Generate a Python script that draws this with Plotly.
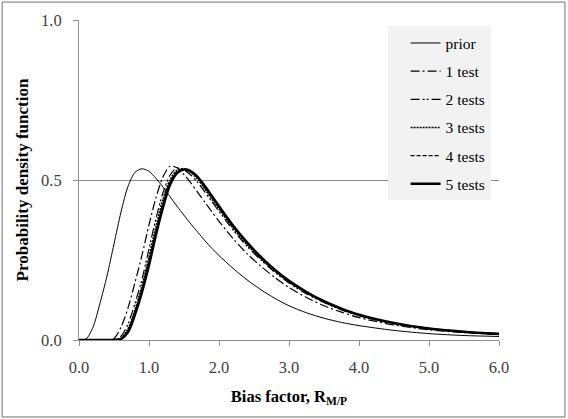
import plotly.graph_objects as go

x_vals = [0.0, 0.1, 0.2, 0.3, 0.4, 0.5, 0.6, 0.7, 0.8, 0.9, 1.0, 1.1, 1.2, 1.3, 1.4, 1.5, 1.6, 1.7, 1.8, 1.9, 2.0,
          2.2, 2.4, 2.6, 2.8, 3.0, 3.25, 3.5, 3.75, 4.0, 4.5, 5.0, 5.5, 6.0]

prior = [0.0, 0.003, 0.04, 0.115, 0.2, 0.3, 0.4, 0.48, 0.524, 0.535, 0.527, 0.505, 0.478, 0.448, 0.418, 0.39,
         0.362, 0.336, 0.31, 0.286, 0.264, 0.224, 0.188, 0.157, 0.13, 0.107, 0.085, 0.068, 0.055, 0.045, 0.03, 0.02, 0.014, 0.011]
test1 = [0.0, 0.0, 0.0, 0.0, 0.0, 0.005, 0.04, 0.1, 0.18, 0.265, 0.36, 0.445, 0.51, 0.543, 0.538, 0.517,
         0.49, 0.46, 0.43, 0.40, 0.371, 0.317, 0.27, 0.23, 0.195, 0.164, 0.133, 0.107, 0.087, 0.07, 0.047, 0.032, 0.023, 0.017]
test2 = [0.0, 0.0, 0.0, 0.0, 0.0, 0.0, 0.012, 0.05, 0.115, 0.19, 0.285, 0.38, 0.46, 0.515, 0.538, 0.532,
         0.515, 0.491, 0.462, 0.432, 0.402, 0.344, 0.293, 0.25, 0.211, 0.178, 0.144, 0.117, 0.094, 0.076, 0.051, 0.035, 0.025, 0.018]
test3 = [0.0, 0.0, 0.0, 0.0, 0.0, 0.0, 0.006, 0.035, 0.095, 0.17, 0.26, 0.355, 0.44, 0.5, 0.53, 0.535,
         0.523, 0.501, 0.471, 0.44, 0.409, 0.35, 0.298, 0.254, 0.215, 0.181, 0.147, 0.119, 0.096, 0.077, 0.052, 0.036, 0.025, 0.018]
test4 = [0.0, 0.0, 0.0, 0.0, 0.0, 0.0, 0.004, 0.03, 0.088, 0.16, 0.248, 0.342, 0.428, 0.493, 0.527, 0.534,
         0.525, 0.505, 0.476, 0.445, 0.414, 0.354, 0.302, 0.257, 0.217, 0.183, 0.148, 0.12, 0.097, 0.078, 0.052, 0.036, 0.026, 0.019]
test5 = [0.0, 0.0, 0.0, 0.0, 0.0, 0.0, 0.003, 0.025, 0.08, 0.15, 0.235, 0.33, 0.415, 0.485, 0.522, 0.533,
         0.527, 0.508, 0.48, 0.449, 0.418, 0.358, 0.305, 0.259, 0.219, 0.185, 0.15, 0.121, 0.098, 0.079, 0.053, 0.036, 0.026, 0.019]

names = ["prior", "1 test", "2 tests", "3 tests", "4 tests", "5 tests"]
series = [prior, test1, test2, test3, test4, test5]
styles = [
    dict(width=1.0, dash="solid"),
    dict(width=1.2, dash="9px,3px,2px,3px"),
    dict(width=1.2, dash="9px,3px,2px,2px,2px,3px"),
    dict(width=1.6, dash="2px,1px"),
    dict(width=1.2, dash="4px,2px"),
    dict(width=2.6, dash="solid"),
]

serif = "Liberation Serif, Times New Roman, serif"
fig = go.Figure()
for i, (nm, ys, st) in enumerate(zip(names, series, styles)):
    fig.add_trace(go.Scatter(x=x_vals, y=ys, mode="lines", name=nm, legendgroup=f"g{i}",
                             line=dict(color="black", shape="spline", smoothing=0.8, **st)))

fig.update_layout(
    width=568, height=419,
    margin=dict(l=79, r=69, t=20, b=79),
    paper_bgcolor="white", plot_bgcolor="white",
    font=dict(family=serif, size=16.5, color="#333333"),
    showlegend=True,
    legend=dict(x=0.98, y=0.98, xanchor="right", yanchor="top", bgcolor="#f2f2f2",
                font=dict(family=serif, size=15.5, color="black"), traceorder="grouped",
                tracegroupgap=5, itemwidth=30, indentation=18),
    xaxis=dict(range=[0, 6], dtick=1, tickformat=".1f", showgrid=False, showline=True,
               linecolor="#8c8c8c", linewidth=1, ticks="outside", ticklen=5, tickcolor="#8c8c8c",
               zeroline=False, tickfont=dict(size=16.5, color="#404040"), ticklabelstandoff=7,
               title=dict(text="<b>Bias factor, R<sub>M/P</sub></b>", font=dict(size=16.5, color="black"), standoff=14)),
    yaxis=dict(range=[0, 1], dtick=0.5, tickformat=".1f", showgrid=True, gridcolor="#8c8c8c", gridwidth=1,
               showline=True, linecolor="#8c8c8c", linewidth=1, ticks="outside", ticklen=5, tickcolor="#8c8c8c",
               zeroline=False, tickfont=dict(size=16.5, color="#404040"), ticklabelstandoff=8,
               title=dict(text="<b>Probability density function</b>", font=dict(size=17, color="black"), standoff=8)),
)

fig.add_shape(type="rect", xref="paper", yref="paper", x0=-0.183, x1=1.157, y0=-0.2406, y1=1.056,
              line=dict(color="#707070", width=1), fillcolor="rgba(0,0,0,0)")

fig.write_html("out.html")
